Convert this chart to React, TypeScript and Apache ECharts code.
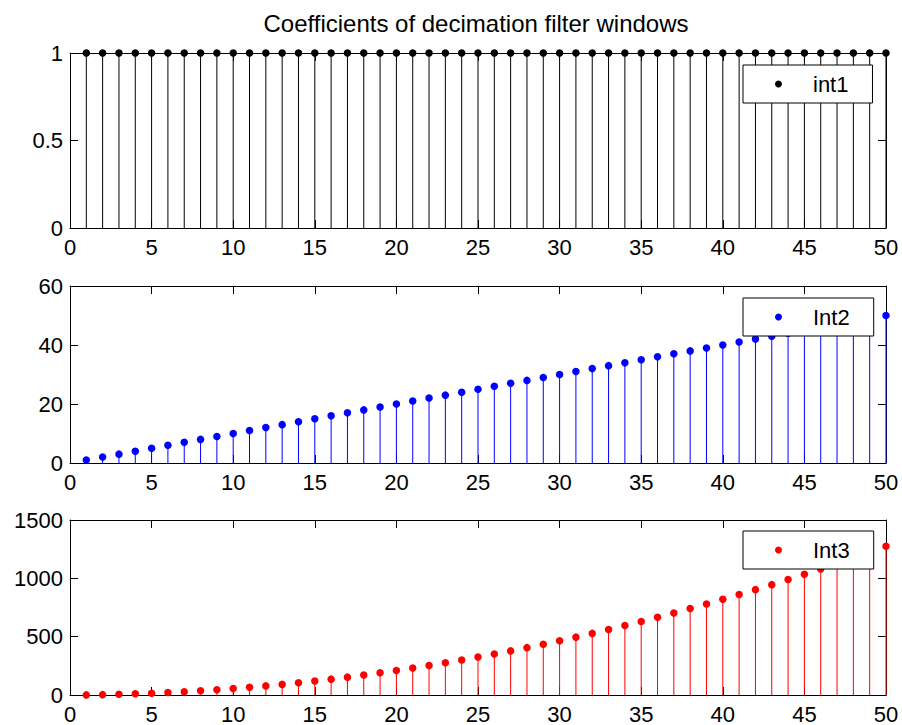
import React, { useEffect, useRef } from "react";
import * as echarts from "echarts";

const xs = [1,2,3,4,5,6,7,8,9,10,11,12,13,14,15,16,17,18,19,20,21,22,23,24,25,26,27,28,29,30,31,32,33,34,35,36,37,38,39,40,41,42,43,44,45,46,47,48,49,50];
const int1 = [1,1,1,1,1,1,1,1,1,1,1,1,1,1,1,1,1,1,1,1,1,1,1,1,1,1,1,1,1,1,1,1,1,1,1,1,1,1,1,1,1,1,1,1,1,1,1,1,1,1];
const int2 = [1,2,3,4,5,6,7,8,9,10,11,12,13,14,15,16,17,18,19,20,21,22,23,24,25,26,27,28,29,30,31,32,33,34,35,36,37,38,39,40,41,42,43,44,45,46,47,48,49,50];
const int3 = [1,3,6,10,15,21,28,36,45,55,66,78,91,105,120,136,153,171,190,210,231,253,276,300,325,351,378,406,435,465,496,528,561,595,630,666,703,741,780,820,861,903,946,990,1035,1081,1128,1176,1225,1275];

const seriesNames = ["int1", "Int2", "Int3"];
const seriesColors = ["#000000", "#0000ff", "#ff0000"];
const yMax = [1, 60, 1500];
const yInterval = [0.5, 20, 500];
const xTickInterval = 5;
const titleText = "Coefficients of decimation filter windows";

const FONT = "'Liberation Sans', Arial, Helvetica, sans-serif";

export default function App() {
  const ref = useRef<HTMLDivElement>(null);
  useEffect(() => {
    if (!ref.current) return;
    const chart = echarts.init(ref.current, undefined, { renderer: "svg" });
    const values = [int1, int2, int3];
    const grids = [
      { left: 70, right: 16, top: 53, height: 175 },
      { left: 70, right: 16, top: 286, height: 177 },
      { left: 70, right: 16, top: 520, height: 176 },
    ];
    const legendTops = [65, 298, 531];
    const xAxes: any[] = [];
    const yAxes: any[] = [];
    const series: any[] = [];
    const legends: any[] = [];
    const axisLine = { show: true, onZero: false, lineStyle: { color: "#000", width: 1 } };
    const axisTick = { show: true, inside: true, length: 8, lineStyle: { color: "#000", width: 1 } };
    const fmt = (v: number) => String(v);
    for (let g = 0; g < 3; g++) {
      xAxes.push({
        type: "value", gridIndex: g, min: 0, max: 50, interval: xTickInterval, position: "bottom",
        axisLine, axisTick, splitLine: { show: false },
        axisLabel: { color: "#000", fontSize: 22, fontFamily: FONT, margin: 8, formatter: fmt },
      });
      xAxes.push({
        type: "value", gridIndex: g, min: 0, max: 50, interval: xTickInterval, position: "top",
        axisLine, axisTick, splitLine: { show: false }, axisLabel: { show: false },
      });
      yAxes.push({
        type: "value", gridIndex: g, min: 0, max: yMax[g], interval: yInterval[g], position: "left",
        axisLine, axisTick, splitLine: { show: false },
        axisLabel: { color: "#000", fontSize: 22, fontFamily: FONT, margin: 7, formatter: fmt },
      });
      yAxes.push({
        type: "value", gridIndex: g, min: 0, max: yMax[g], interval: yInterval[g], position: "right",
        axisLine, axisTick, splitLine: { show: false }, axisLabel: { show: false },
      });
      const data = xs.map((x, i) => [x, values[g][i]]);
      const color = seriesColors[g];
      series.push({
        type: "custom",
        name: seriesNames[g] + "_stem",
        xAxisIndex: g * 2,
        yAxisIndex: g * 2,
        data,
        clip: false,
        renderItem: (params: any, api: any) => {
          const x = api.value(0);
          const y = api.value(1);
          const p0 = api.coord([x, 0]);
          const p1 = api.coord([x, y]);
          return {
            type: "line",
            shape: { x1: p0[0], y1: p0[1], x2: p1[0], y2: p1[1] },
            style: { stroke: color, lineWidth: 1 },
          };
        },
        z: 2,
      });
      series.push({
        type: "scatter",
        name: seriesNames[g],
        xAxisIndex: g * 2,
        yAxisIndex: g * 2,
        data,
        symbol: "circle",
        symbolSize: 7.5,
        clip: false,
        itemStyle: { color, opacity: 1 },
        z: 3,
      });
      legends.push({
        data: [{ name: seriesNames[g], icon: "circle", itemStyle: { color, opacity: 1 } }],
        left: 743,
        top: legendTops[g],
        orient: "horizontal",
        itemWidth: 7,
        itemHeight: 7,
        borderColor: "#000",
        borderWidth: 1,
        backgroundColor: "#fff",
        padding: [8, 24, 8, 32],
        selectedMode: false,
        textStyle: { color: "#000", fontSize: 22, fontFamily: FONT, padding: [0, 0, 0, 26] },
        z: 10,
      });
    }
    chart.setOption({
      animation: false,
      backgroundColor: "#fff",
      grid: grids,
      xAxis: xAxes,
      yAxis: yAxes,
      series,
      legend: legends,
      graphic: [
        {
          type: "text",
          x: 476,
          y: 11,
          style: { text: titleText, font: `24px ${FONT}`, fill: "#000", textAlign: "center", textVerticalAlign: "top" },
        },
      ],
    });
    return () => chart.dispose();
  }, []);
  return <div ref={ref} style={{ position: "absolute", left: 0, top: 0, width: 902, height: 725 }} />;
}
